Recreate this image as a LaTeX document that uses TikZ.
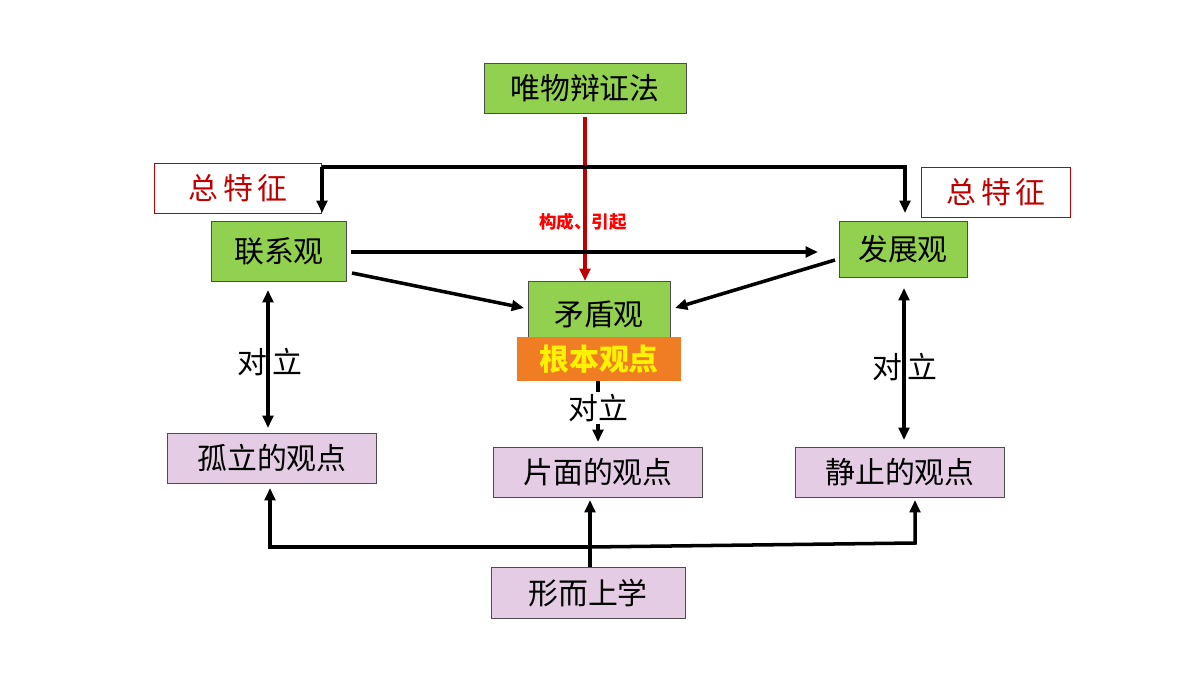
\documentclass[tikz,border=0pt]{standalone}
\usepackage{fontspec}
\setmainfont{Noto Sans CJK SC}
\usetikzlibrary{arrows.meta}
\definecolor{gr}{HTML}{92D050}
\definecolor{pu}{HTML}{E4CCE4}
\definecolor{og}{HTML}{F07C24}
\definecolor{rd}{HTML}{C00000}
\begin{document}
\begin{tikzpicture}[x=0.02cm,y=-0.02cm,
 box/.style={draw=black!70,line width=0.5pt,inner sep=0,font=\fontsize{17}{17}\selectfont},
 g/.style={box,fill=gr},
 p/.style={box,fill=pu},
 t/.style={draw=rd,line width=0.5pt,fill=white,inner sep=0,text=rd,font=\fontsize{17}{17}\selectfont},
 ar/.style={-{Triangle[length=7pt,width=6pt]},line width=2pt},
 lab/.style={font=\fontsize{17}{17}\selectfont}]
\useasboundingbox (0,0) rectangle (1200,675);
\node[g,minimum width=202*0.02cm,minimum height=50*0.02cm] (w) at (585,88) {唯物辩证法};
\node[t,minimum width=167*0.02cm,minimum height=50*0.02cm] (z1) at (238,188) {总\,特\,征};
\node[t,minimum width=149*0.02cm,minimum height=50*0.02cm] (z2) at (996,192) {总\,特\,征};
\node[g,minimum width=135*0.02cm,minimum height=60*0.02cm] (l) at (279,251) {联系观};
\node[g,minimum width=128*0.02cm,minimum height=56*0.02cm] (f) at (903,249) {发展观};
\node[g,minimum width=142*0.02cm,minimum height=64*0.02cm,text depth=-8pt] (m) at (599,313) {矛盾观};
\node[fill=og,minimum width=164*0.02cm,minimum height=44*0.02cm,inner sep=0,text=yellow,font=\fontsize{17}{17}\selectfont\bfseries] (gb) at (599,359) {根本观点};
\node[p,minimum width=209*0.02cm,minimum height=50*0.02cm] (gl) at (272,458) {孤立的观点};
\node[p,minimum width=209*0.02cm,minimum height=50*0.02cm] (pm) at (598,472) {片面的观点};
\node[p,minimum width=209*0.02cm,minimum height=50*0.02cm] (jz) at (900,472) {静止的观点};
\node[p,minimum width=194*0.02cm,minimum height=51*0.02cm] (xs) at (588,593) {形而上学};
% red arrow
\coordinate (r1) at (585,117);
\draw[-{Triangle[length=7pt,width=6pt]},line width=2pt,rd] (r1) -- (585,281);
\node[text=red,font=\fontsize{10}{10}\selectfont\bfseries] (gc) at (583,222) {构成、引起};
% top bracket
\draw[ar] (322,167) -- (905,167) -- (905,213);
\draw[ar] (322,167) -- (322,213);
\draw[ar] (l.east|-0,252) ++(4,0) -- (818,252);
\draw[ar] (352,273) -- (524,308);
\draw[ar] (835,260) -- (675,308);
\draw[{Triangle[length=7pt,width=6pt]}-{Triangle[length=7pt,width=6pt]},line width=2pt] (268,290) -- (268,428);
\node[lab] (d1) at (270,362) {对\,立};
\draw[{Triangle[length=7pt,width=6pt]}-{Triangle[length=7pt,width=6pt]},line width=2pt] (904,288) -- (904,440);
\node[lab] (d2) at (905,367) {对\,立};
\draw[ar] (gb.south-|598,0) -- (598,442);
\node[lab,fill=white,inner sep=1pt] (d3) at (598,408) {对立};
% bottom
\draw[ar] (xs.north-|590,0) -- (590,500);
\draw[ar] (590,547) -- (270,547) -- (270,488);
\draw[ar] (590,547) -- (915,543) -- (915,500);
\end{tikzpicture}
\end{document}
